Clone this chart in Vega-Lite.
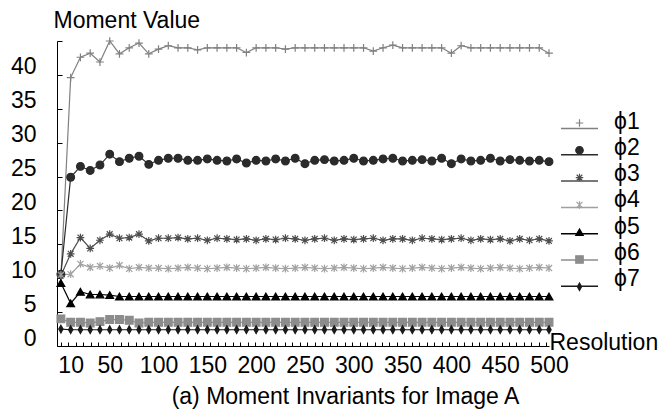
{
  "$schema": "https://vega.github.io/schema/vega-lite/v6.json",
  "autosize": "none",
  "padding": {"left": 57, "top": 41, "right": 111, "bottom": 69},
  "width": 492,
  "height": 305,
  "background": "white",
  "config": {"view": {"stroke": null}, "font": "Liberation Sans"},
  "data": {"values": [
    {"r":0,"ϕ1":10.2,"ϕ2":10.6,"ϕ3":10.4,"ϕ4":10.5,"ϕ5":9.3,"ϕ6":4.0,"ϕ7":2.5},
    {"r":10,"ϕ1":39.6,"ϕ2":24.9,"ϕ3":13.6,"ϕ4":10.6,"ϕ5":6.3,"ϕ6":3.5,"ϕ7":2.4},
    {"r":20,"ϕ1":42.6,"ϕ2":26.5,"ϕ3":16.0,"ϕ4":12.1,"ϕ5":8.0,"ϕ6":3.5,"ϕ7":2.4},
    {"r":30,"ϕ1":43.2,"ϕ2":25.9,"ϕ3":14.4,"ϕ4":11.6,"ϕ5":7.6,"ϕ6":3.4,"ϕ7":2.4},
    {"r":40,"ϕ1":41.9,"ϕ2":26.7,"ϕ3":15.6,"ϕ4":11.8,"ϕ5":7.6,"ϕ6":3.6,"ϕ7":2.4},
    {"r":50,"ϕ1":45.0,"ϕ2":28.3,"ϕ3":16.5,"ϕ4":11.5,"ϕ5":7.5,"ϕ6":3.9,"ϕ7":2.4},
    {"r":60,"ϕ1":43.1,"ϕ2":27.2,"ϕ3":15.9,"ϕ4":11.9,"ϕ5":7.3,"ϕ6":3.9,"ϕ7":2.4},
    {"r":70,"ϕ1":44.0,"ϕ2":27.7,"ϕ3":16.0,"ϕ4":11.4,"ϕ5":7.3,"ϕ6":3.8,"ϕ7":2.4},
    {"r":80,"ϕ1":44.7,"ϕ2":28.0,"ϕ3":16.5,"ϕ4":11.6,"ϕ5":7.3,"ϕ6":3.4,"ϕ7":2.4},
    {"r":90,"ϕ1":43.1,"ϕ2":26.8,"ϕ3":15.5,"ϕ4":11.5,"ϕ5":7.3,"ϕ6":3.5,"ϕ7":2.4},
    {"r":100,"ϕ1":43.8,"ϕ2":27.4,"ϕ3":15.9,"ϕ4":11.5,"ϕ5":7.3,"ϕ6":3.5,"ϕ7":2.4},
    {"r":110,"ϕ1":44.3,"ϕ2":27.7,"ϕ3":15.9,"ϕ4":11.4,"ϕ5":7.3,"ϕ6":3.5,"ϕ7":2.4},
    {"r":120,"ϕ1":44.0,"ϕ2":27.7,"ϕ3":16.0,"ϕ4":11.5,"ϕ5":7.3,"ϕ6":3.5,"ϕ7":2.4},
    {"r":130,"ϕ1":44.0,"ϕ2":27.4,"ϕ3":15.8,"ϕ4":11.6,"ϕ5":7.3,"ϕ6":3.5,"ϕ7":2.4},
    {"r":140,"ϕ1":43.7,"ϕ2":27.4,"ϕ3":15.9,"ϕ4":11.5,"ϕ5":7.3,"ϕ6":3.5,"ϕ7":2.4},
    {"r":150,"ϕ1":44.0,"ϕ2":27.6,"ϕ3":15.6,"ϕ4":11.4,"ϕ5":7.3,"ϕ6":3.5,"ϕ7":2.4},
    {"r":160,"ϕ1":44.0,"ϕ2":27.4,"ϕ3":15.9,"ϕ4":11.5,"ϕ5":7.3,"ϕ6":3.5,"ϕ7":2.4},
    {"r":170,"ϕ1":44.0,"ϕ2":27.3,"ϕ3":15.8,"ϕ4":11.6,"ϕ5":7.3,"ϕ6":3.5,"ϕ7":2.4},
    {"r":180,"ϕ1":44.0,"ϕ2":27.6,"ϕ3":15.7,"ϕ4":11.5,"ϕ5":7.3,"ϕ6":3.5,"ϕ7":2.4},
    {"r":190,"ϕ1":43.3,"ϕ2":27.0,"ϕ3":15.8,"ϕ4":11.4,"ϕ5":7.3,"ϕ6":3.5,"ϕ7":2.4},
    {"r":200,"ϕ1":44.0,"ϕ2":27.4,"ϕ3":15.6,"ϕ4":11.5,"ϕ5":7.3,"ϕ6":3.5,"ϕ7":2.4},
    {"r":210,"ϕ1":44.0,"ϕ2":27.3,"ϕ3":15.8,"ϕ4":11.6,"ϕ5":7.3,"ϕ6":3.5,"ϕ7":2.4},
    {"r":220,"ϕ1":44.0,"ϕ2":27.6,"ϕ3":15.7,"ϕ4":11.5,"ϕ5":7.3,"ϕ6":3.5,"ϕ7":2.4},
    {"r":230,"ϕ1":43.8,"ϕ2":27.3,"ϕ3":15.9,"ϕ4":11.4,"ϕ5":7.3,"ϕ6":3.5,"ϕ7":2.4},
    {"r":240,"ϕ1":44.0,"ϕ2":27.7,"ϕ3":15.8,"ϕ4":11.5,"ϕ5":7.3,"ϕ6":3.5,"ϕ7":2.4},
    {"r":250,"ϕ1":44.0,"ϕ2":26.9,"ϕ3":15.6,"ϕ4":11.6,"ϕ5":7.3,"ϕ6":3.5,"ϕ7":2.4},
    {"r":260,"ϕ1":44.0,"ϕ2":27.4,"ϕ3":15.8,"ϕ4":11.5,"ϕ5":7.3,"ϕ6":3.5,"ϕ7":2.4},
    {"r":270,"ϕ1":44.0,"ϕ2":27.5,"ϕ3":15.9,"ϕ4":11.4,"ϕ5":7.3,"ϕ6":3.5,"ϕ7":2.4},
    {"r":280,"ϕ1":44.0,"ϕ2":27.3,"ϕ3":15.6,"ϕ4":11.5,"ϕ5":7.3,"ϕ6":3.5,"ϕ7":2.4},
    {"r":290,"ϕ1":44.0,"ϕ2":27.4,"ϕ3":15.8,"ϕ4":11.6,"ϕ5":7.3,"ϕ6":3.5,"ϕ7":2.4},
    {"r":300,"ϕ1":44.0,"ϕ2":27.7,"ϕ3":15.7,"ϕ4":11.5,"ϕ5":7.3,"ϕ6":3.5,"ϕ7":2.4},
    {"r":310,"ϕ1":44.0,"ϕ2":27.3,"ϕ3":15.8,"ϕ4":11.4,"ϕ5":7.3,"ϕ6":3.5,"ϕ7":2.4},
    {"r":320,"ϕ1":43.5,"ϕ2":27.4,"ϕ3":15.9,"ϕ4":11.5,"ϕ5":7.3,"ϕ6":3.5,"ϕ7":2.4},
    {"r":330,"ϕ1":44.0,"ϕ2":27.6,"ϕ3":15.6,"ϕ4":11.6,"ϕ5":7.3,"ϕ6":3.5,"ϕ7":2.4},
    {"r":340,"ϕ1":44.4,"ϕ2":27.7,"ϕ3":15.8,"ϕ4":11.5,"ϕ5":7.3,"ϕ6":3.5,"ϕ7":2.4},
    {"r":350,"ϕ1":44.0,"ϕ2":27.3,"ϕ3":15.8,"ϕ4":11.4,"ϕ5":7.3,"ϕ6":3.5,"ϕ7":2.4},
    {"r":360,"ϕ1":44.0,"ϕ2":27.4,"ϕ3":15.6,"ϕ4":11.5,"ϕ5":7.3,"ϕ6":3.5,"ϕ7":2.4},
    {"r":370,"ϕ1":44.0,"ϕ2":27.5,"ϕ3":15.9,"ϕ4":11.6,"ϕ5":7.3,"ϕ6":3.5,"ϕ7":2.4},
    {"r":380,"ϕ1":44.0,"ϕ2":27.3,"ϕ3":15.8,"ϕ4":11.5,"ϕ5":7.3,"ϕ6":3.5,"ϕ7":2.4},
    {"r":390,"ϕ1":44.0,"ϕ2":27.7,"ϕ3":15.7,"ϕ4":11.4,"ϕ5":7.3,"ϕ6":3.5,"ϕ7":2.4},
    {"r":400,"ϕ1":43.2,"ϕ2":26.9,"ϕ3":15.8,"ϕ4":11.5,"ϕ5":7.3,"ϕ6":3.5,"ϕ7":2.4},
    {"r":410,"ϕ1":44.3,"ϕ2":27.6,"ϕ3":15.9,"ϕ4":11.6,"ϕ5":7.3,"ϕ6":3.5,"ϕ7":2.4},
    {"r":420,"ϕ1":44.0,"ϕ2":27.3,"ϕ3":15.6,"ϕ4":11.5,"ϕ5":7.3,"ϕ6":3.5,"ϕ7":2.4},
    {"r":430,"ϕ1":44.0,"ϕ2":27.4,"ϕ3":15.8,"ϕ4":11.4,"ϕ5":7.3,"ϕ6":3.5,"ϕ7":2.4},
    {"r":440,"ϕ1":44.0,"ϕ2":27.7,"ϕ3":15.7,"ϕ4":11.5,"ϕ5":7.3,"ϕ6":3.5,"ϕ7":2.4},
    {"r":450,"ϕ1":44.0,"ϕ2":27.3,"ϕ3":15.8,"ϕ4":11.6,"ϕ5":7.3,"ϕ6":3.5,"ϕ7":2.4},
    {"r":460,"ϕ1":44.0,"ϕ2":27.5,"ϕ3":15.5,"ϕ4":11.5,"ϕ5":7.3,"ϕ6":3.5,"ϕ7":2.4},
    {"r":470,"ϕ1":44.0,"ϕ2":27.4,"ϕ3":15.8,"ϕ4":11.4,"ϕ5":7.3,"ϕ6":3.5,"ϕ7":2.4},
    {"r":480,"ϕ1":44.0,"ϕ2":27.3,"ϕ3":15.6,"ϕ4":11.5,"ϕ5":7.3,"ϕ6":3.5,"ϕ7":2.4},
    {"r":490,"ϕ1":44.0,"ϕ2":27.4,"ϕ3":15.8,"ϕ4":11.6,"ϕ5":7.3,"ϕ6":3.5,"ϕ7":2.4},
    {"r":500,"ϕ1":43.2,"ϕ2":27.2,"ϕ3":15.5,"ϕ4":11.5,"ϕ5":7.3,"ϕ6":3.5,"ϕ7":2.4}
  ]},
  "transform": [{"fold": ["ϕ1","ϕ2","ϕ3","ϕ4","ϕ5","ϕ6","ϕ7"], "as": ["s","v"]}],
  "resolve": {"axis": {"x": "independent"}},
  "encoding": {
    "y": {"field": "v", "type": "quantitative",
      "scale": {"domain": [0, 45], "nice": false},
      "axis": {"values": [0,5,10,15,20,25,30,35,40,45],
        "labelExpr": "datum.value == 45 ? '' : datum.label",
        "grid": false, "tickSize": -5, "tickColor": "black", "domainColor": "black",
        "labelFont": "Liberation Sans", "labelFontSize": 23, "labelColor": "black",
        "labelFlush": false, "labelOverlap": false, "labelOffset": -8, "labelPadding": 26,
        "title": "Moment Value", "titleAngle": 0, "titleAlign": "left", "titleBaseline": "alphabetic",
        "titleX": -4, "titleY": -14, "titleFont": "Liberation Sans", "titleFontSize": 23,
        "titleFontWeight": "normal", "titleColor": "black"}}
  },
  "layer": [
    {
      "mark": {"type": "line", "strokeWidth": 1.2},
      "encoding": {
        "x": {"field": "r", "type": "quantitative",
          "scale": {"domain": [-4, 500], "nice": false, "zero": false},
          "axis": {"orient": "bottom", "values": [10,50,100,150,200,250,300,350,400,450,500],
            "ticks": false, "grid": false, "domain": true, "domainColor": "black", "domainWidth": 1,
            "labelFont": "Liberation Sans", "labelFontSize": 23, "labelColor": "black",
            "labelFlush": false, "labelOverlap": false, "labelPadding": 8, "labelBaseline": "top",
            "title": "Resolution", "titleFont": "Liberation Sans", "titleFontSize": 23, "titleFontWeight": "normal",
            "titleColor": "black", "titleX": 492, "titleY": 3, "titleAlign": "left", "titleBaseline": "alphabetic", "titleAnchor": null}},
        "color": {"field": "s", "type": "nominal",
          "scale": {"domain": ["ϕ1","ϕ2","ϕ3","ϕ4","ϕ5","ϕ6","ϕ7"],
            "range": ["#808080","#2b2b2b","#4d4d4d","#a0a0a0","#000000","#8c8c8c","#1a1a1a"]},
          "legend": {"orient": "none", "legendX": 503, "legendY": 68, "title": null, "padding": 0,
            "symbolType": "stroke", "symbolSize": 1369, "symbolStrokeWidth": 1.5,
            "labelFont": "Liberation Sans", "labelFontSize": 23, "labelColor": "black",
            "labelBaseline": "alphabetic", "labelOffset": 15, "rowPadding": 1.3}}
      }
    },
    {
      "mark": {"type": "point", "filled": true, "size": 60, "strokeWidth": 1.2, "opacity": 1},
      "encoding": {
        "x": {"field": "r", "type": "quantitative",
          "axis": {"orient": "bottom", "values": [0,7.65,15.3,22.95,30.6,38.25,45.9,53.55,61.2,68.85,76.5,84.15,91.8,99.45,107.1,114.75,122.4,130.05,137.7,145.35,153,160.65,168.3,175.95,183.6,191.25,198.9,206.55,214.2,221.85,229.5,237.15,244.8,252.45,260.1,267.75,275.4,283.05,290.7,298.35,306,313.65,321.3,328.95,336.6,344.25,351.9,359.55,367.2,374.85,382.5,390.15,397.8,405.45,413.1,420.75,428.4,436.05,443.7,451.35,459,466.65,474.3,481.95,489.6,497.25],
            "labels": false, "domain": false, "grid": false, "ticks": true, "tickSize": -4, "tickColor": "black",
            "title": "(a) Moment Invariants for Image A", "titleFont": "Liberation Sans", "titleFontSize": 23,
            "titleFontWeight": "normal", "titleColor": "black", "titleX": 288, "titleY": 57,
            "titleAlign": "center", "titleBaseline": "alphabetic", "titleAnchor": null}},
        "shape": {"field": "s", "type": "nominal",
          "scale": {"range": ["M-1,0H1M0,-1V1","circle","M-1,0H1M0,-1V1M-0.75,-0.75L0.75,0.75M-0.75,0.75L0.75,-0.75","M0,-1V1M-0.8,-0.8L0.8,0.8M-0.8,0.8L0.8,-0.8","triangle-up","square","M0,-1L0.55,0L0,1L-0.55,0Z"]},
          "legend": {"orient": "none", "legendX": 511, "legendY": 70, "title": null, "padding": 0,
            "symbolSize": 56, "symbolStrokeWidth": 1.2, "labelExpr": "''",
            "labelFontSize": 23, "clipHeight": 24, "rowPadding": 3.3}},
        "fill": {"field": "s", "type": "nominal",
          "scale": {"range": ["transparent","#2b2b2b","transparent","transparent","#000000","#8c8c8c","#1a1a1a"]},
          "legend": {"orient": "none", "legendX": 511, "legendY": 70, "title": null, "padding": 0,
            "symbolSize": 56, "symbolStrokeWidth": 1.2, "labelExpr": "''",
            "labelFontSize": 23, "clipHeight": 24, "rowPadding": 3.3}},
        "stroke": {"field": "s", "type": "nominal",
          "scale": {"range": ["#808080","#2b2b2b","#4d4d4d","#a0a0a0","#000000","#8c8c8c","#1a1a1a"]},
          "legend": {"orient": "none", "legendX": 511, "legendY": 70, "title": null, "padding": 0,
            "symbolSize": 56, "symbolStrokeWidth": 1.2, "labelExpr": "''",
            "labelFontSize": 23, "clipHeight": 24, "rowPadding": 3.3}}
      }
    }
  ]
}
